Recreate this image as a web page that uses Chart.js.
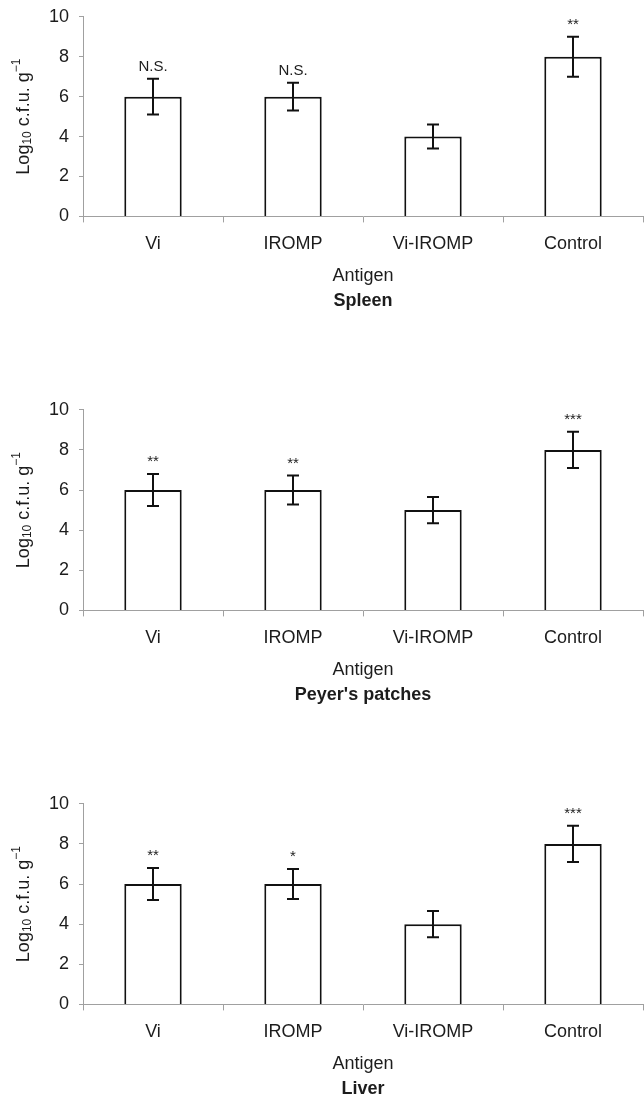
<!DOCTYPE html>
<html>
<head>
<meta charset="utf-8">
<script src="https://cdn.jsdelivr.net/npm/chart.js@4.4.1/dist/chart.umd.min.js"></script>
<style>
  html, body { margin: 0; padding: 0; background: #fff; overflow: hidden; }
  body { width: 644px; height: 1095px; position: relative; }
  .panel { position: absolute; left: 0; width: 644px; }
</style>
</head>
<body>
<div class="panel" style="top:-4px"><canvas id="spleen" width="644" height="318"></canvas></div>
<div class="panel" style="top:389px"><canvas id="peyer" width="644" height="319"></canvas></div>
<div class="panel" style="top:783px"><canvas id="liver" width="644" height="319"></canvas></div>
<script>
// data
var categories = ["Vi", "IROMP", "Vi-IROMP", "Control"];

var spleenMeans = [6, 6, 4, 8];
var spleenErrors = [0.9, 0.7, 0.6, 1.0];
var spleenSig = ["N.S.", "N.S.", "", "**"];

var peyerMeans = [6, 6, 5, 8];
var peyerErrors = [0.8, 0.72, 0.65, 0.9];
var peyerSig = ["**", "**", "", "***"];

var liverMeans = [6, 6, 4, 8];
var liverErrors = [0.8, 0.75, 0.65, 0.9];
var liverSig = ["**", "*", "", "***"];

var panelTitles = ["Spleen", "Peyer's patches", "Liver"];
var xTitle = "Antigen";

var FONT = "'Liberation Sans', Arial, sans-serif";
var TEXT = "#1c1c1c";
var AXIS = "#a0a0a0";

// error bars + significance marks
var errorPlugin = {
  id: "errorBars",
  afterDatasetsDraw: function(chart) {
    var ctx = chart.ctx;
    var y = chart.scales.y;
    var meta = chart.getDatasetMeta(0);
    var means = chart.data.datasets[0].data;
    var errs = chart.options.plugins.errorBars.errors;
    var sig = chart.options.plugins.errorBars.sig;
    ctx.save();
    ctx.strokeStyle = "#111";
    ctx.lineWidth = 2;
    meta.data.forEach(function(bar, i) {
      var top = y.getPixelForValue(means[i] + errs[i]);
      var bot = y.getPixelForValue(means[i] - errs[i]);
      ctx.beginPath();
      ctx.moveTo(bar.x, top); ctx.lineTo(bar.x, bot);
      ctx.moveTo(bar.x - 6, top); ctx.lineTo(bar.x + 6, top);
      ctx.moveTo(bar.x - 6, bot); ctx.lineTo(bar.x + 6, bot);
      ctx.stroke();
      if (sig[i]) {
        ctx.fillStyle = TEXT;
        ctx.textAlign = "center";
        ctx.textBaseline = "alphabetic";
        ctx.font = "15px " + FONT;
        ctx.fillText(sig[i], bar.x, top - 8);
      }
    });
    ctx.restore();
  }
};

// rotated y title with subscript / superscript
var yTitlePlugin = {
  id: "yTitle",
  afterDraw: function(chart) {
    var ctx = chart.ctx;
    var area = chart.chartArea;
    var parts = [
      ["Log", 18, 0], ["10", 12, 4], [" c.f.u. g", 18, 0], ["\u22121", 12, -7]
    ];
    ctx.save();
    ctx.translate(24, (area.top + area.bottom) / 2);
    ctx.rotate(-Math.PI / 2);
    ctx.fillStyle = TEXT;
    ctx.textBaseline = "middle";
    ctx.textAlign = "left";
    var total = 0;
    parts.forEach(function(p) { ctx.font = p[1] + "px " + FONT; total += ctx.measureText(p[0]).width; });
    var x = -total / 2;
    parts.forEach(function(p) {
      ctx.font = p[1] + "px " + FONT;
      ctx.fillText(p[0], x, p[2]);
      x += ctx.measureText(p[0]).width;
    });
    ctx.restore();
  }
};

function makeChart(id, means, errors, sig, title) {
  return new Chart(id, {
    type: "bar",
    data: {
      labels: categories,
      datasets: [{
        data: means,
        backgroundColor: "#fff",
        borderColor: "#111",
        borderWidth: 2,
        categoryPercentage: 1.0,
        barPercentage: 0.41
      }]
    },
    options: {
      responsive: false,
      animation: false,
      layout: { padding: { top: 12, left: 0, right: 1, bottom: 0 } },
      plugins: {
        legend: { display: false },
        tooltip: { enabled: false },
        title: {
          display: true,
          fullSize: false,
          position: "bottom",
          text: title,
          color: TEXT,
          font: { family: FONT, size: 18, weight: "bold" },
          padding: { top: 2, bottom: 2 }
        },
        errorBars: { errors: errors, sig: sig }
      },
      scales: {
        x: {
          grid: { display: true, drawOnChartArea: false, drawTicks: true, tickLength: 6, color: AXIS, offset: true },
          border: { color: AXIS, width: 1 },
          ticks: { color: TEXT, font: { family: FONT, size: 18 }, padding: 11 },
          title: { display: true, text: xTitle, color: TEXT, font: { family: FONT, size: 18 }, padding: { top: 0, bottom: 2 } },
          afterFit: function(s) { s.height = 72; }
        },
        y: {
          min: 0,
          max: 10,
          ticks: { stepSize: 2, color: TEXT, font: { family: FONT, size: 18 }, padding: 10 },
          grid: { display: true, drawOnChartArea: false, drawTicks: true, tickLength: 4, color: AXIS },
          border: { color: AXIS, width: 1 },
          afterFit: function(s) { s.width = 83; }
        }
      }
    },
    plugins: [errorPlugin, yTitlePlugin]
  });
}

makeChart("spleen", spleenMeans, spleenErrors, spleenSig, panelTitles[0]);
makeChart("peyer", peyerMeans, peyerErrors, peyerSig, panelTitles[1]);
makeChart("liver", liverMeans, liverErrors, liverSig, panelTitles[2]);
</script>
</body>
</html>
